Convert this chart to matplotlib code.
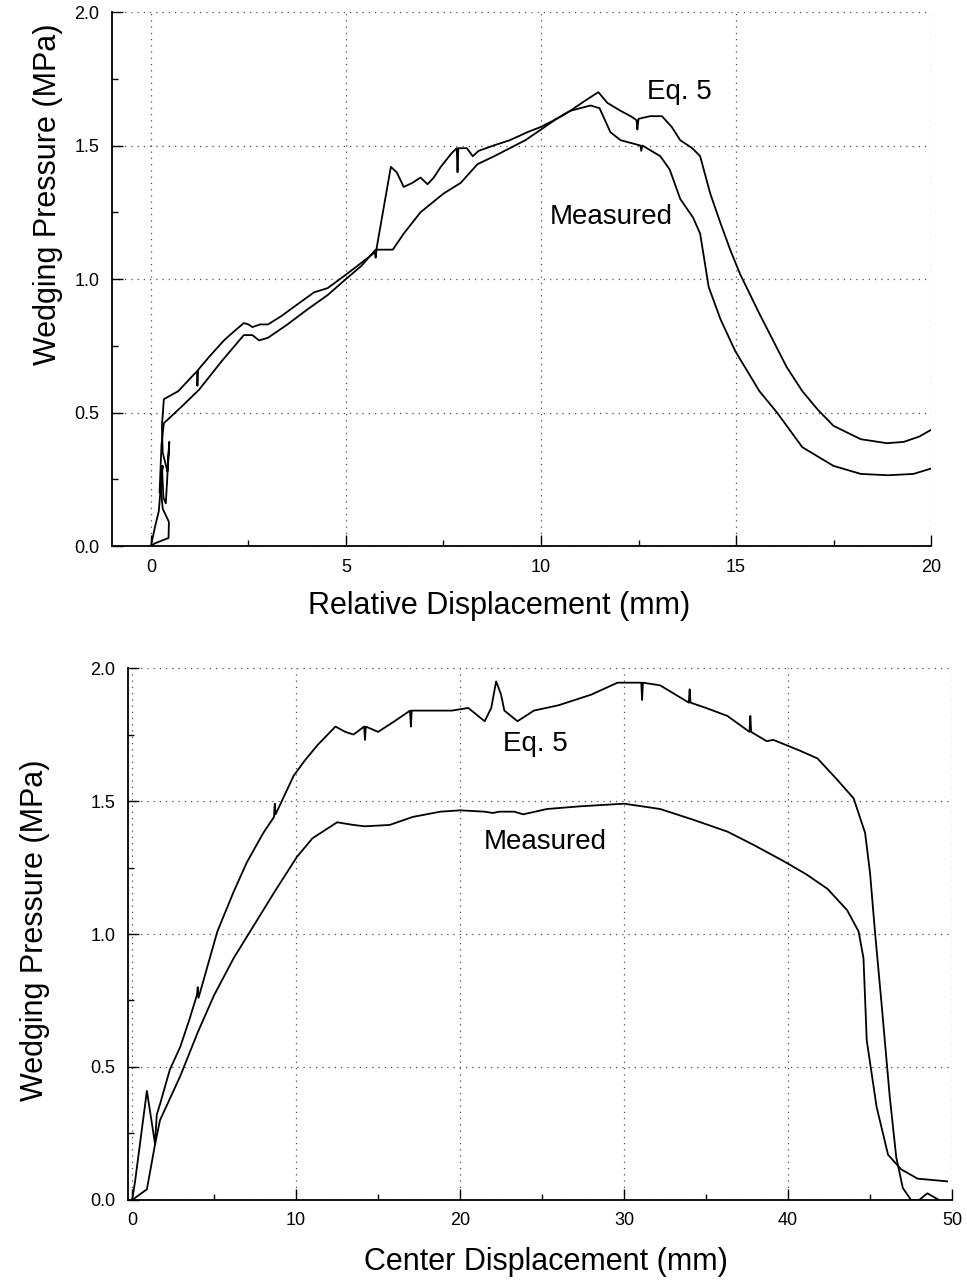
import numpy as np
import matplotlib.pyplot as plt
from matplotlib.ticker import MultipleLocator

plt.rcParams['font.family'] = ['Liberation Sans', 'DejaVu Sans']

# upper panel: wedging pressure vs relative displacement
rel_eq5_x = [0, 0.1, 0.2, 0.25, 0.28, 0.32, 0.38, 0.47, 0.42, 0.30, 0.28, 0.33, 0.7, 1.18, 1.19, 1.21,
             1.5, 1.87, 2.1, 2.38, 2.5, 2.6, 2.8, 3.0, 3.33, 3.8, 4.18, 4.53, 4.94, 5.3, 5.74, 5.76, 5.79,
             6.15, 6.3, 6.48, 6.7, 6.91, 7.09, 7.25, 7.43, 7.7, 7.84, 7.86, 7.88, 8.1, 8.25, 8.4, 8.78,
             9.2, 9.65, 10.0, 10.4, 10.75, 11.1, 11.47, 11.7, 12.04, 12.3, 12.45, 12.47, 12.5, 12.8, 13.1,
             13.35, 13.57, 13.88, 14.08, 14.34, 14.6, 14.85, 15.1, 15.6, 16.3, 16.7, 17.1, 17.5, 18.2,
             18.87, 19.3, 19.7, 20.0]
rel_eq5_y = [0, 0.07, 0.13, 0.22, 0.30, 0.18, 0.16, 0.39, 0.28, 0.35, 0.45, 0.55, 0.58, 0.655, 0.60, 0.66,
             0.71, 0.77, 0.80, 0.835, 0.83, 0.82, 0.83, 0.83, 0.86, 0.91, 0.95, 0.966, 1.01, 1.05, 1.10, 1.08, 1.12,
             1.42, 1.40, 1.345, 1.36, 1.38, 1.355, 1.38, 1.42, 1.47, 1.49, 1.40, 1.49, 1.49, 1.46, 1.48, 1.50,
             1.52, 1.55, 1.57, 1.60, 1.63, 1.665, 1.70, 1.66, 1.63, 1.61, 1.595, 1.56, 1.60, 1.61, 1.61,
             1.57, 1.52, 1.49, 1.46, 1.32, 1.21, 1.11, 1.02, 0.87, 0.67, 0.58, 0.51, 0.45, 0.40,
             0.385, 0.39, 0.41, 0.435]

rel_meas_x = [0, 0.1, 0.45, 0.46, 0.30, 0.25, 0.30, 0.22, 0.27, 0.33, 0.77, 1.23, 1.8, 2.38, 2.6, 2.77,
              3.0, 3.5, 4.0, 4.53, 5.0, 5.4, 5.76, 6.2, 6.48, 6.91, 7.5, 7.94, 8.37, 8.8, 9.2, 9.6, 10.0,
              10.4, 10.75, 11.27, 11.5, 11.78, 12.04, 12.55, 12.57, 12.6, 13.06, 13.3, 13.57, 13.9, 14.08,
              14.3, 14.6, 14.98, 15.6, 16.05, 16.7, 17.5, 18.2, 18.9, 19.55, 20.0]
rel_meas_y = [0, 0.01, 0.03, 0.09, 0.14, 0.22, 0.30, 0.20, 0.38, 0.46, 0.52, 0.585, 0.69, 0.79, 0.79, 0.77,
              0.78, 0.83, 0.885, 0.94, 1.0, 1.05, 1.11, 1.11, 1.17, 1.25, 1.32, 1.36, 1.43, 1.46, 1.49, 1.52, 1.56,
              1.60, 1.63, 1.65, 1.64, 1.55, 1.52, 1.50, 1.48, 1.50, 1.46, 1.41, 1.30, 1.23, 1.17,
              0.97, 0.85, 0.73, 0.58, 0.50, 0.37, 0.30, 0.27, 0.265, 0.27, 0.29]

# lower panel: wedging pressure vs center displacement
cen_eq5_x = [0, 0.18, 0.9, 1.4, 1.5, 1.7, 2.3, 2.93, 3.5, 3.95, 4.0, 4.05, 5.2, 6.2, 7.0, 8.0, 8.65, 8.7,
             8.75, 9.85, 10.5, 11.3, 12.4, 13.0, 13.5, 14.15, 14.2, 14.25, 15.0, 16.0, 16.95, 17.0, 17.05,
             18.0, 19.5, 20.5, 21.5, 21.9, 22.2, 22.5, 22.7, 23.5, 24.5, 26.0, 28.0, 29.6, 31.05, 31.1,
             31.15, 32.2, 33.95, 34.0, 34.05, 35.0, 36.3, 37.65, 37.7, 37.75, 38.7, 39.1, 39.9, 40.7,
             41.8, 43.0, 44.0, 44.7, 45.0, 45.3, 45.7, 46.2, 46.6, 47.0, 47.5, 48.0, 48.5, 49.2]
cen_eq5_y = [0, 0.07, 0.41, 0.21, 0.32, 0.36, 0.49, 0.575, 0.68, 0.77, 0.80, 0.76, 1.01, 1.16, 1.27, 1.38, 1.44, 1.49,
             1.45, 1.595, 1.65, 1.71, 1.78, 1.76, 1.75, 1.78, 1.73, 1.78, 1.76, 1.80, 1.84, 1.78, 1.84,
             1.84, 1.84, 1.85, 1.80, 1.85, 1.95, 1.90, 1.84, 1.80, 1.84, 1.86, 1.90, 1.945, 1.945, 1.88,
             1.945, 1.935, 1.87, 1.92, 1.87, 1.85, 1.82, 1.76, 1.82, 1.76, 1.725, 1.73, 1.71, 1.69,
             1.66, 1.58, 1.51, 1.38, 1.23, 1.01, 0.74, 0.39, 0.16, 0.045, 0.0, 0.0, 0.025, 0.0]

cen_meas_x = [0, 0.9, 1.4, 1.7, 2.93, 4.0, 5.0, 6.2, 7.5, 8.7, 10.05, 11.0, 12.5, 13.5, 14.2, 15.7, 17.1,
              18.8, 20.0, 21.5, 22.0, 22.4, 23.3, 23.85, 25.3, 27.3, 30.0, 32.2, 34.2, 36.3, 37.9, 39.7,
              41.1, 42.4, 43.6, 44.3, 44.6, 44.8, 45.4, 46.1, 46.9, 47.9, 49.7]
cen_meas_y = [0, 0.04, 0.21, 0.30, 0.465, 0.63, 0.77, 0.91, 1.04, 1.16, 1.29, 1.36, 1.42, 1.41, 1.405, 1.41, 1.44,
              1.46, 1.465, 1.46, 1.455, 1.46, 1.46, 1.45, 1.47, 1.48, 1.49, 1.47, 1.43, 1.385, 1.335, 1.275,
              1.225, 1.17, 1.09, 1.01, 0.91, 0.60, 0.35, 0.17, 0.115, 0.08, 0.07]

y_ticks = [0.0, 0.5, 1.0, 1.5, 2.0]
rel_ticks = [0, 5, 10, 15, 20]
cen_ticks = [0, 10, 20, 30, 40, 50]

fig = plt.figure(figsize=(9.67, 12.82), dpi=100)
ax1 = fig.add_axes([0.1158, 0.5741, 0.847, 0.4165])
ax2 = fig.add_axes([0.1324, 0.0640, 0.8521, 0.4149])


def style(ax, xticks, xminor, xlim):
    ax.set_xlim(*xlim)
    ax.set_ylim(0, 2.0)
    ax.set_xticks(xticks)
    ax.set_xticklabels([str(v) for v in xticks], fontsize=13)
    ax.set_yticks(y_ticks)
    ax.set_yticklabels(['%.1f' % v for v in y_ticks], fontsize=13)
    ax.xaxis.set_minor_locator(MultipleLocator(xminor))
    ax.yaxis.set_minor_locator(MultipleLocator(0.25))
    ax.tick_params(which='both', direction='in', width=1)
    ax.tick_params(which='major', length=8, pad=9)
    ax.tick_params(which='minor', length=4)
    ax.tick_params(axis='y', pad=9)
    for s in ['top', 'right']:
        ax.spines[s].set_visible(False)
    for s in ['left', 'bottom']:
        ax.spines[s].set_linewidth(1.3)
    ax.grid(True, which='major', linestyle=(0, (1, 4)), linewidth=0.9, color='0.3')
    ax.set_axisbelow(True)


style(ax1, rel_ticks, 2.5, (-1, 20))
ax1.plot(rel_eq5_x, rel_eq5_y, color='k', lw=1.3)
ax1.plot(rel_meas_x, rel_meas_y, color='k', lw=1.3)
ax1.text(13.55, 1.70, 'Eq. 5', fontsize=20, ha='center', va='center')
ax1.text(11.8, 1.232, 'Measured', fontsize=20, ha='center', va='center')

style(ax2, cen_ticks, 5, (-0.25, 50))
ax2.plot(cen_eq5_x, cen_eq5_y, color='k', lw=1.3)
ax2.plot(cen_meas_x, cen_meas_y, color='k', lw=1.3)
ax2.text(24.6, 1.714, 'Eq. 5', fontsize=20, ha='center', va='center')
ax2.text(25.2, 1.346, 'Measured', fontsize=20, ha='center', va='center')

fig.text(499 / 967, 1 - 606 / 1282, 'Relative Displacement (mm)', fontsize=22, ha='center', va='center')
fig.text(48 / 967, 1 - 194 / 1282, 'Wedging Pressure (MPa)', fontsize=22, ha='center', va='center', rotation=90)
fig.text(546 / 967, 1 - 1262 / 1282, 'Center Displacement (mm)', fontsize=22, ha='center', va='center')
fig.text(35 / 967, 1 - 930 / 1282, 'Wedging Pressure (MPa)', fontsize=22, ha='center', va='center', rotation=90)

fig.savefig('out.png', dpi=100)
